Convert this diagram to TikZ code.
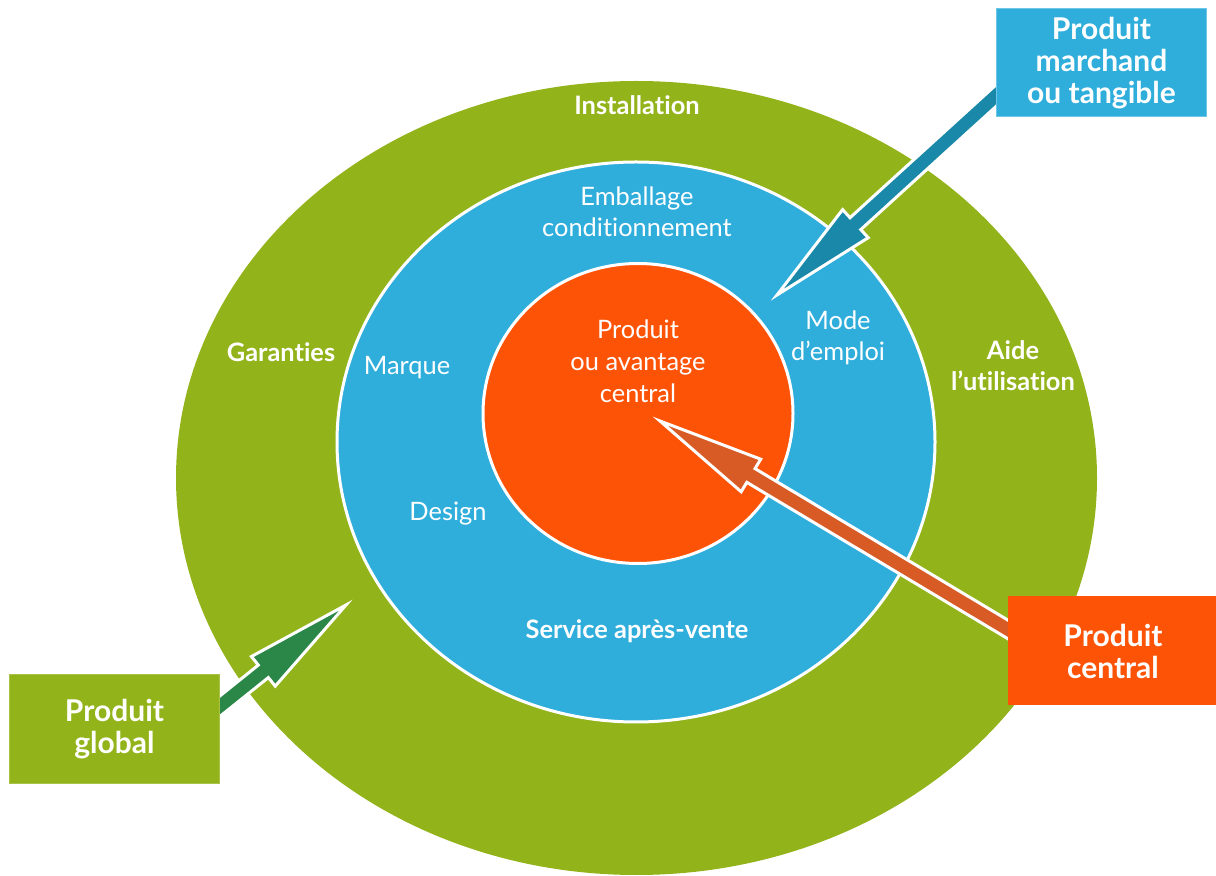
\documentclass[tikz,border=0pt]{standalone}
\usepackage{fontspec}
\setmainfont{Lato}[Ligatures={NoCommon}]
\usetikzlibrary{calc}

\definecolor{ringgreen}{HTML}{93B31A}
\definecolor{ringblue}{HTML}{2FADDB}
\definecolor{coreorange}{HTML}{FD5307}
\definecolor{arrowblue}{HTML}{1A88A8}
\definecolor{arroworange}{HTML}{D85B26}
\definecolor{arrowgreen}{HTML}{2A8747}

% block arrow with a white outline: #1 tip, #2 point on the box edge, #3 colour
\newcommand\blockarrow[3]{%
  \path ($(#2)!-8pt!(#1)$) coordinate (ba-s)
        ($(#1)!53pt!(#2)$) coordinate (ba-h);
  \filldraw[fill=#3, draw=white, line width=1.5pt, line join=miter, miter limit=20]
    (#1) -- ($(ba-h)!9.5pt!90:(ba-s)$) -- ($(ba-h)!4pt!90:(ba-s)$)
    -- ($(ba-s)!4pt!-90:(ba-h)$) -- ($(ba-s)!4pt!90:(ba-h)$)
    -- ($(ba-h)!4pt!-90:(ba-s)$) -- ($(ba-h)!9.5pt!-90:(ba-s)$) -- cycle;
}

\tikzset{
  x=0.5pt, y=-0.5pt,
  ringlabel/.style={text=white, align=center, font=\fontsize{12.7}{15.5}\selectfont},
  ringtitle/.style={ringlabel, font=\fontsize{12.7}{15.5}\selectfont\bfseries},
  tagbox/.style={text=white, align=center, inner sep=0pt,
    minimum width=105pt, minimum height=54pt,
    font=\fontsize{15}{16}\selectfont\bfseries, line width=0.5pt},
}

\begin{document}
\begin{tikzpicture}
\useasboundingbox (0,0) rectangle (1216,876);

% the three nested zones
\fill[ringgreen] (636.5,478) ellipse [x radius=230.25pt, y radius=198.5pt];
\filldraw[fill=ringblue, draw=white, line width=1.5pt]
  (636,442) ellipse [x radius=149.5pt, y radius=140pt];
\filldraw[fill=coreorange, draw=white, line width=1.5pt]
  (638,413.5) ellipse [x radius=77.5pt, y radius=75pt];

% outer ring
\node[ringtitle] (inst) at (637,105) {Installation};
\node[ringtitle] (gar)  at (281,352) {Garanties};
\node[ringtitle] (aide) at (1013,366) {Aide\\l’utilisation};

% middle ring
\node[ringlabel] (emb)  at (637,212) {Emballage\\conditionnement};
\node[ringlabel] (marq) at (407,368) {Marque};
\node[ringlabel] (mode) at (838,338) {Mode\\d’emploi};
\node[ringlabel] (des)  at (448,514) {Design};
\node[ringtitle] (sav)  at (637,631) {Service après-vente};

% core
\node[ringlabel, font=\fontsize{12.7}{16}\selectfont] (core) at (638,361)
  {Produit\\ou avantage\\central};

% boxes
\node[tagbox, fill=ringblue, draw=ringblue!70!white] (pm) at (1101.5,63)
  {Produit\\marchand\\ou tangible};
\node[tagbox, fill=coreorange, draw=coreorange] (pc) at (1113,651)
  {Produit\\central};
\node[tagbox, fill=ringgreen, draw=ringgreen!80!white] (pg) at (114.5,729)
  {Produit\\global};

% arrow tips and their entry points on the boxes
\coordinate (tip-pm) at (777,295);
\coordinate (tip-pc) at (660,421);
\coordinate (tip-pg) at (346,605);
\coordinate (edge-pm) at ($(pm.north west)!0.8!(pm.south west)$);
\coordinate (edge-pc) at ($(pc.north west)!0.3!(pc.south west)$);
\coordinate (edge-pg) at ($(pg.north east)!0.29!(pg.south east)$);

\blockarrow{tip-pm}{edge-pm}{arrowblue}
\blockarrow{tip-pc}{edge-pc}{arroworange}
\blockarrow{tip-pg}{edge-pg}{arrowgreen}

% boxes again on top of the arrow tails
\node[tagbox, fill=ringblue, draw=ringblue!70!white] at (pm) {Produit\\marchand\\ou tangible};
\node[tagbox, fill=coreorange, draw=coreorange] at (pc) {Produit\\central};
\node[tagbox, fill=ringgreen, draw=ringgreen!80!white] at (pg) {Produit\\global};
\end{tikzpicture}
\end{document}
